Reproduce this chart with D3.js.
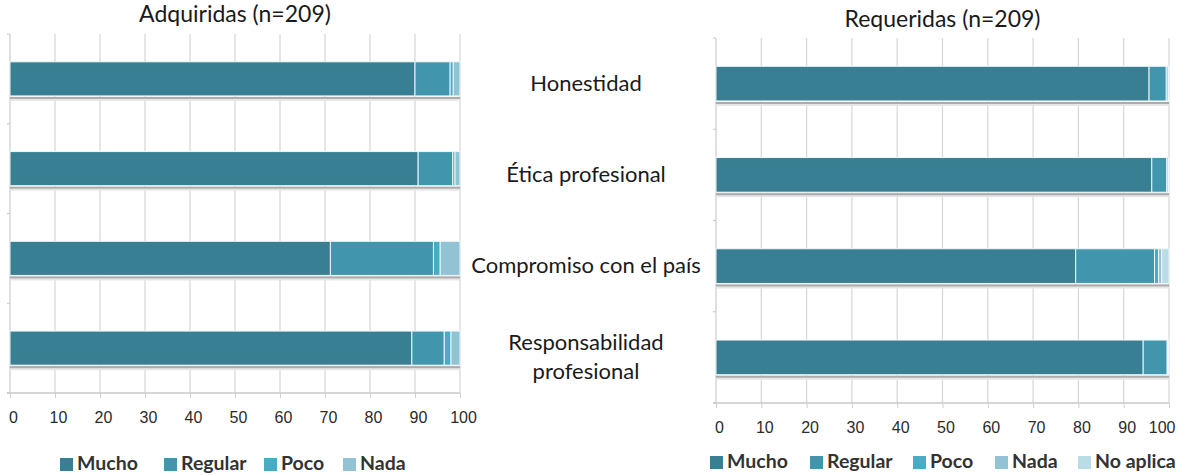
<!DOCTYPE html>
<html>
<head>
<meta charset="utf-8">
<script src="https://cdn.jsdelivr.net/npm/d3@7"></script>
<style>
  body { margin: 0; background: #fff; }
  svg { display: block; }
  .title, .cat { font-family: Lato, "Open Sans", sans-serif; fill: #1a1a1a; }
  .tick text { font-family: "Liberation Sans", Arial, sans-serif; fill: #2b2b2b; }
  .legend text { font-family: Lato, sans-serif; font-weight: bold; fill: #333; }
</style>
</head>
<body>
<div id="chart"></div>
<script>
// categories (top to bottom)
var categories = ["Honestidad", "Ética profesional", "Compromiso con el país", "Responsabilidad profesional"];

// Adquiridas (n=209), percent
var adqSeries = ["Mucho", "Regular", "Poco", "Nada"];
var adqMucho   = [90.0, 90.7, 71.2, 89.3];
var adqRegular = [7.8, 7.7, 22.9, 7.2];
var adqPoco    = [0.7, 0.5, 1.5, 1.5];
var adqNada    = [1.5, 1.1, 4.4, 2.0];

// Requeridas (n=209), percent
var reqSeries = ["Mucho", "Regular", "Poco", "Nada", "No aplica"];
var reqMucho    = [95.6, 96.2, 79.4, 94.3];
var reqRegular  = [3.8, 3.3, 17.4, 5.3];
var reqPoco     = [0.4, 0.3, 0.9, 0.2];
var reqNada     = [0.1, 0.1, 0.7, 0.1];
var reqNoAplica = [0.1, 0.1, 1.6, 0.1];

var xTicks = [0, 10, 20, 30, 40, 50, 60, 70, 80, 90, 100];

var colors = {
  "Mucho": "#387f93",
  "Regular": "#4196ad",
  "Poco": "#4aabc5",
  "Nada": "#92c3d4",
  "No aplica": "#b9dce7"
};

var width = 1177, height = 475;

var svg = d3.select("#chart")
  .append("svg")
    .attr("width", width)
    .attr("height", height);

function buildRows(series, values) {
  return categories.map(function (c, i) {
    var row = {cat: c};
    series.forEach(function (s, j) { row[s] = values[j][i]; });
    return row;
  });
}

function drawPanel(opt) {
  var rows = buildRows(opt.series, opt.values);
  var stacked = d3.stack().keys(opt.series)(rows);

  var x = d3.scaleLinear().domain([0, 100]).range([opt.x0, opt.x1]);
  var y = d3.scaleBand().domain(categories).range([opt.y0, opt.y1])
    .paddingInner(0.62).paddingOuter(0.31);

  var g = svg.append("g");

  // vertical gridlines
  g.selectAll("line.grid")
    .data(xTicks.slice(1))
    .enter()
    .append("line")
      .attr("x1", d => x(d)).attr("x2", d => x(d))
      .attr("y1", opt.y0).attr("y2", opt.y1)
      .attr("stroke", "#d9d9d9")
      .attr("stroke-width", 1.3);

  // left axis line + small ticks at band borders
  g.append("line")
    .attr("x1", opt.x0).attr("x2", opt.x0)
    .attr("y1", opt.y0).attr("y2", opt.y1)
    .attr("stroke", "#d0d0d0").attr("stroke-width", 1.3);

  var step = y.step();
  g.selectAll("line.ytick")
    .data(d3.range(categories.length + 1))
    .enter()
    .append("line")
      .attr("x1", opt.x0 - 3).attr("x2", opt.x0)
      .attr("y1", d => opt.y0 + d * step).attr("y2", d => opt.y0 + d * step)
      .attr("stroke", "#c8c8c8");

  // shadow below each bar
  g.selectAll("rect.shadow")
    .data(categories)
    .enter()
    .append("rect")
      .attr("x", x(0)).attr("width", x(100) - x(0))
      .attr("y", d => y(d) + y.bandwidth() + 1)
      .attr("height", 4)
      .attr("fill", "#e6e6e6");
  g.selectAll("rect.shadow2")
    .data(categories)
    .enter()
    .append("rect")
      .attr("x", x(0)).attr("width", x(100) - x(0))
      .attr("y", d => y(d) + y.bandwidth() + 1)
      .attr("height", 2)
      .attr("fill", "#ababab");

  // stacked bars
  g.selectAll("g.layer")
    .data(stacked)
    .enter()
    .append("g")
      .attr("fill", d => colors[d.key])
    .selectAll("rect")
    .data(d => d)
    .enter()
    .append("rect")
      .attr("x", d => x(d[0]))
      .attr("width", d => Math.max(0, x(d[1]) - x(d[0])))
      .attr("y", d => y(d.data.cat))
      .attr("height", y.bandwidth())
      .attr("stroke", "#eef6f8")
      .attr("stroke-width", 1);

  // bottom axis
  var axis = g.append("g")
    .attr("transform", "translate(0," + opt.y1 + ")")
    .call(d3.axisBottom(x).tickValues(xTicks).tickSize(5).tickPadding(14));
  axis.select(".domain").attr("stroke", "#c8c8c8").attr("stroke-width", 1.3)
    .attr("d", "M" + (opt.x0 - 3) + ",0H" + opt.x1);
  axis.selectAll(".tick line").attr("stroke", "#d0d0d0");
  axis.selectAll(".tick text")
    .style("font-size", "16px")
    .attr("dx", 3);
  // keep the last label inside the page
  if (opt.lastLabelEnd) {
    axis.selectAll(".tick text")
      .filter(d => d === 100)
      .attr("text-anchor", "end")
      .attr("dx", opt.lastLabelEnd - opt.x1);
  }

  // title
  svg.append("text")
    .attr("class", "title")
    .attr("x", (opt.x0 + opt.x1) / 2)
    .attr("y", opt.titleY)
    .attr("text-anchor", "middle")
    .style("font-size", "23px")
    .text(opt.title);

  // legend
  var lg = svg.append("g").attr("class", "legend");
  var items = lg.selectAll("g")
    .data(opt.series)
    .enter()
    .append("g")
      .attr("transform", (d, i) => "translate(" + opt.legendX[i] + "," + opt.legendY + ")");
  items.append("rect")
    .attr("x", 0).attr("y", -12).attr("width", 13).attr("height", 13)
    .attr("fill", d => colors[d]);
  items.append("text")
    .attr("x", 17).attr("y", 0)
    .style("font-size", "19.5px")
    .text(d => d);

  return y;
}

drawPanel({
  title: "Adquiridas (n=209)", titleY: 22,
  series: adqSeries,
  values: [adqMucho, adqRegular, adqPoco, adqNada],
  x0: 10, x1: 460, y0: 34, y1: 393,
  legendX: [60, 164, 264, 343], legendY: 470
});

var yReq = drawPanel({
  title: "Requeridas (n=209)", titleY: 27,
  series: reqSeries,
  values: [reqMucho, reqRegular, reqPoco, reqNada, reqNoAplica],
  x0: 716, x1: 1169, y0: 38, y1: 403,
  legendX: [710, 810, 913, 995, 1078], legendY: 468,
  lastLabelEnd: 1175
});

// category labels between the two panels, centred on the right panel's bands
var labelLines = {
  "Honestidad": ["Honestidad"],
  "Ética profesional": ["Ética profesional"],
  "Compromiso con el país": ["Compromiso con el país"],
  "Responsabilidad profesional": ["Responsabilidad", "profesional"]
};

categories.forEach(function (c) {
  var lines = labelLines[c];
  var cy = yReq(c) + yReq.bandwidth() / 2;
  var t = svg.append("text")
    .attr("class", "cat")
    .attr("text-anchor", "middle")
    .style("font-size", "22px");
  lines.forEach(function (l, i) {
    t.append("tspan")
      .attr("x", 586)
      .attr("y", cy + 7 + (i - (lines.length - 1) / 2) * 29)
      .text(l);
  });
});
</script>
</body>
</html>
